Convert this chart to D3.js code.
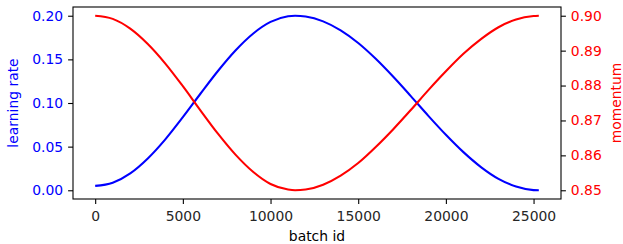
<!DOCTYPE html>
<html>
<head>
<meta charset="utf-8">
<script src="https://cdn.jsdelivr.net/npm/d3@7"></script>
<style>
body { margin: 0; background: #fff; }
text { font-family: "DejaVu Sans", sans-serif; }
</style>
</head>
<body>
<script>
// values
var batchIds = [0, 1000, 2000, 3000, 4000, 5000, 6000, 7000, 8000, 9000, 10000, 11000, 11400,
        12000, 13000, 14000, 15000, 16000, 17000, 18000, 19000, 20000, 21000, 22000, 23000, 24000, 25000, 25300];
var learningRate = [0.005, 0.0087, 0.0194, 0.0365, 0.0584, 0.0838, 0.1106, 0.1367, 0.1602, 0.1794, 0.1929, 0.1994, 0.2,
        0.1991, 0.1935, 0.1832, 0.1687, 0.1506, 0.1300, 0.1079, 0.0853, 0.0636, 0.0437, 0.0266, 0.0131, 0.0043, 0.0002, 0.0];
var momentum = [0.9, 0.8991, 0.8963, 0.8919, 0.8863, 0.8798, 0.8729, 0.8662, 0.8602, 0.8553, 0.8518, 0.8502, 0.85,
        0.8502, 0.8516, 0.8542, 0.8578, 0.8624, 0.8675, 0.8730, 0.8787, 0.8841, 0.8891, 0.8933, 0.8967, 0.8989, 0.8999, 0.9];
var xTicks = [0, 5000, 10000, 15000, 20000, 25000];
var lrTicks = [0, 0.05, 0.1, 0.15, 0.2];
var momTicks = [0.85, 0.86, 0.87, 0.88, 0.89, 0.9];

var width = 623, height = 244;
// plot box (window.top is read only, so other names)
var plotLeft = 73, plotRight = 561, plotTop = 7, plotBottom = 199;
var fontSize = 13.9;

var svg = d3.select('body').append('svg')
        .attr('width', width)
        .attr('height', height);

// matplotlib style 5% margins
var x = d3.scaleLinear().domain([-1265, 26565]).range([plotLeft, plotRight]);
var yLr = d3.scaleLinear().domain([-0.01, 0.21]).range([plotBottom, plotTop]);
var yMom = d3.scaleLinear().domain([0.8475, 0.9025]).range([plotBottom, plotTop]);

var lrLine = d3.line()
        .x(function(d, i) { return x(batchIds[i]); })
        .y(function(d) { return yLr(d); })
        .curve(d3.curveMonotoneX);
var momLine = d3.line()
        .x(function(d, i) { return x(batchIds[i]); })
        .y(function(d) { return yMom(d); })
        .curve(d3.curveMonotoneX);

svg.append('path')
        .attr('d', lrLine(learningRate))
        .attr('fill', 'none')
        .attr('stroke', '#0000ff')
        .attr('stroke-width', 2.08);

svg.append('path')
        .attr('d', momLine(momentum))
        .attr('fill', 'none')
        .attr('stroke', '#ff0000')
        .attr('stroke-width', 2.08);

// axes
function styleAxis(g, color) {
    g.select('.domain').remove();
    g.selectAll('.tick line').attr('stroke', '#000').attr('stroke-width', 1.1);
    g.selectAll('.tick text')
            .attr('fill', color)
            .style('font-size', fontSize + 'px')
            .style('font-family', '"DejaVu Sans", sans-serif');
}

var xAxis = svg.append('g')
        .attr('transform', 'translate(0,' + plotBottom + ')')
        .call(d3.axisBottom(x).tickValues(xTicks).tickFormat(d3.format('d')).tickSize(4.9).tickPadding(6.9));
styleAxis(xAxis, '#262626');

var lrAxis = svg.append('g')
        .attr('transform', 'translate(' + plotLeft + ',0)')
        .call(d3.axisLeft(yLr).tickValues(lrTicks).tickFormat(d3.format('.2f')).tickSize(4.9).tickPadding(4.9));
styleAxis(lrAxis, '#0000ff');

var momAxis = svg.append('g')
        .attr('transform', 'translate(' + plotRight + ',0)')
        .call(d3.axisRight(yMom).tickValues(momTicks).tickFormat(d3.format('.2f')).tickSize(4.9).tickPadding(4.9));
styleAxis(momAxis, '#ff0000');

// frame
svg.append('rect')
        .attr('x', plotLeft)
        .attr('y', plotTop)
        .attr('width', plotRight - plotLeft)
        .attr('height', plotBottom - plotTop)
        .attr('fill', 'none')
        .attr('stroke', '#000')
        .attr('stroke-width', 1.1);

// axis labels
svg.append('text')
        .text('batch id')
        .attr('x', (plotLeft + plotRight) / 2)
        .attr('y', 241)
        .attr('text-anchor', 'middle')
        .attr('fill', '#000')
        .style('font-size', fontSize + 'px');

svg.append('text')
        .text('learning rate')
        .attr('text-anchor', 'middle')
        .attr('fill', '#0000ff')
        .style('font-size', fontSize + 'px')
        .attr('transform', 'translate(18,' + (plotTop + plotBottom) / 2 + ') rotate(-90)');

svg.append('text')
        .text('momentum')
        .attr('text-anchor', 'middle')
        .attr('fill', '#ff0000')
        .style('font-size', fontSize + 'px')
        .attr('transform', 'translate(621,' + (plotTop + plotBottom) / 2 + ') rotate(-90)');
</script>
</body>
</html>
